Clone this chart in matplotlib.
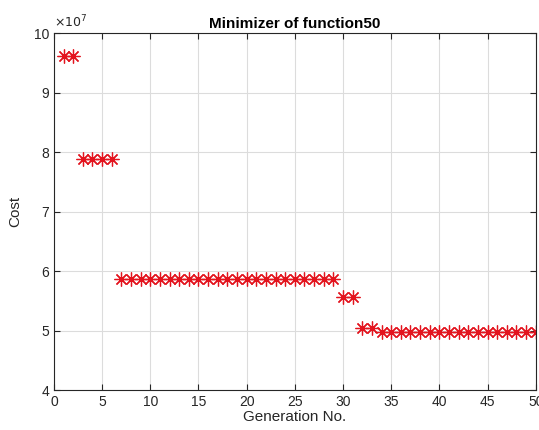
import matplotlib.pyplot as plt
import numpy as np

# cost of the best member in each generation
generations = np.arange(1, 51)
cost = ([9.62e7] * 2 + [7.88e7] * 4 + [5.87e7] * 23 + [5.57e7] * 2
        + [5.05e7] * 2 + [4.97e7] * 17)

plt.rcParams['font.family'] = 'Liberation Sans'

fig = plt.figure(figsize=(5.39, 4.30), dpi=100)
ax = fig.add_axes([0.100, 0.093, 0.894, 0.830])

# MATLAB style asterisk: 8 spokes
ax.plot(generations, np.array(cost) / 1e7, linestyle='none', marker=(8, 2, 0),
        color='#e3141e', markersize=10, markeredgewidth=0.9)

ax.set_xlim(0, 50)
ax.set_ylim(4, 10)
ax.set_xticks(np.arange(0, 51, 5))
ax.set_yticks(np.arange(4, 11, 1))
ax.grid(True, color='#dcdcdc', linewidth=0.8)
ax.set_axisbelow(True)
ax.tick_params(direction='in', top=True, right=True, labelsize=10,
               colors='#262626', length=4)
for s in ax.spines.values():
    s.set_color('#262626')
    s.set_linewidth(0.8)

ax.set_xlabel('Generation No.', fontsize=11, color='#262626', labelpad=1)
ax.set_ylabel('Cost', fontsize=11, color='#262626', labelpad=8)
ax.set_title('Minimizer of function50', fontsize=11, fontweight='bold', pad=4)
ax.text(0.0, 10.05, r'$\times10^{7}$', fontsize=9, color='#262626',
        ha='left', va='bottom')

fig.savefig('out.png', dpi=100)
